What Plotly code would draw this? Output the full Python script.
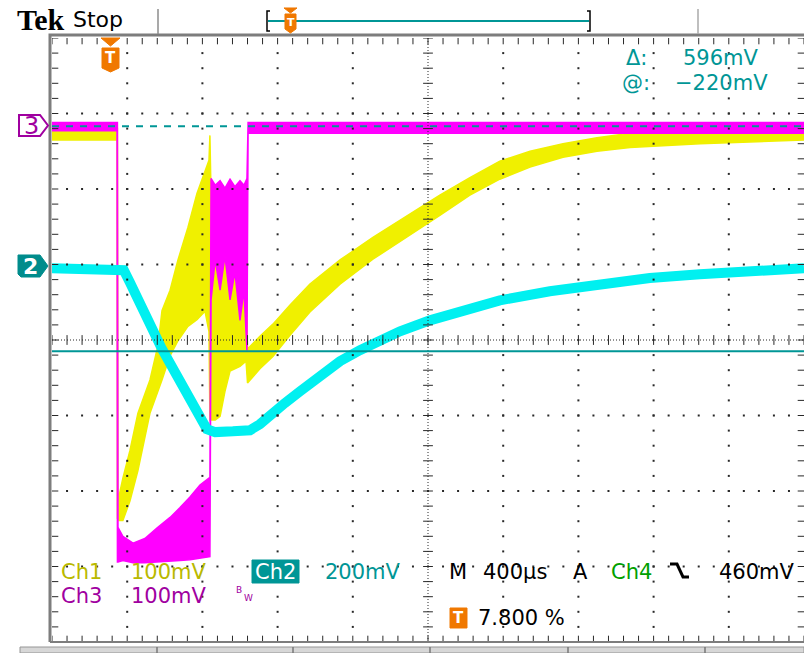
import plotly.graph_objects as go

# ---------------- data (read from the screen) ----------------
# time axis: microseconds relative to the trigger, 400 us/div, trigger at 7.8 % of record
T_PER_DIV = 400
TRIG_PCT = 7.8

# Ch1 (yellow) 100 mV/div : upper / lower envelope of the noisy trace, mV
ch1_t = [-312, 34, 36, 39, 65, 103, 145, 209, 252, 273, 316, 358, 411, 459, 502, 523, 528, 534,
         556, 582, 608, 635, 688, 720, 728, 794, 863, 953, 1060, 1220, 1395, 1576, 1751, 1911, 2070,
         2231, 2406, 2587, 2763, 3135, 3688]
ch1_hi = [-3, -3, -3, -496, -466, -429, -380, -336, -290, -244, -217, -177, -134, -89, -61, -45, -12, -91,
          -150, -160, -160, -165, -170, -175, -295, -278, -262, -237, -209, -177, -147, -119, -91, -68, -46,
          -33, -23, -15, -9, -7, -4]
ch1_lo = [-18, -18, -519, -522, -522, -496, -456, -380, -350, -336, -304, -284, -265, -256, -245, -272, -389, -389,
          -389, -384, -351, -324, -318, -311, -340, -321, -305, -277, -246, -209, -176, -146, -118, -91, -70,
          -54, -41, -33, -28, -23, -18]

# Ch3 (magenta) 100 mV/div : upper / lower envelope, mV
ch3_t = [-312, 34, 36, 39, 65, 119, 182, 246, 316, 369, 422, 475, 528, 534, 556, 582, 608, 635,
         661, 688, 709, 725, 731, 3688]
ch3_hi = [5, 5, 5, -531, -543, -552, -546, -532, -518, -505, -491, -475, -465, -69, -78, -72, -82, -70,
          -80, -72, -78, -69, 5, 5]
ch3_lo = [-6, -6, -577, -577, -575, -578, -578, -577, -576, -575, -574, -572, -570, -230, -177, -217, -172, -230,
          -193, -257, -217, -297, -9, -9]

# Ch2 (cyan) 200 mV/div, mV
ch2_t = [-312, 40, 70, 100, 273, 512, 556, 650, 741, 794, 847, 927, 1007, 1113, 1220, 1326, 1432,
         1539, 1698, 1858, 2070, 2336, 2602, 2868, 3134, 3400, 3688]
ch2_mv = [0, 0, -5, -35, -214, -426, -434, -432, -429, -413, -389, -357, -326, -284, -246, -217, -191,
          -167, -138, -114, -85, -61, -42, -26, -16, -8, 0]

# horizontal cursors on Ch2 (mV): "@" and "@ + delta"
cursor_at = -220
cursor_delta = 596

# channel settings: (mV/div, ground position in div)
CH1 = (100, 2.83)
CH2 = (200, 0.95)
CH3 = (100, 2.83)

# ---------------- figure ----------------
W, H = 804, 653
L, R, T, B = 52, 0, 38, 11
X0 = -T_PER_DIV * 10 * TRIG_PCT / 100
X1 = X0 + 10 * T_PER_DIV

YEL = '#f0f000'
MAG = '#ff00ff'
CYA = '#00f0f0'
TEAL = 'rgb(0,150,150)'
ORANGE = 'rgb(240,120,0)'
PURPLE = 'rgb(160,0,160)'
OLIVE = 'rgb(185,185,0)'
GRID = 'rgb(40,40,40)'


def px(x):
    return (x - L) / (W - L - R)


def py(y):
    return (H - B - y) / (H - T - B)


def to_div(vals, ch):
    sc, pos = ch
    return [pos + v / sc for v in vals]


fig = go.Figure()


def band(t, hi, lo, ch, color):
    xs = list(t) + list(t[::-1])
    ys = to_div(hi, ch) + to_div(lo[::-1], ch)
    fig.add_trace(go.Scatter(x=xs, y=ys, mode='lines', fill='toself', fillcolor=color,
                             line=dict(color=color, width=1.5), hoverinfo='skip'))


band(ch1_t, ch1_hi, ch1_lo, CH1, YEL)
band(ch3_t, ch3_hi, ch3_lo, CH3, MAG)
fig.add_trace(go.Scatter(x=ch2_t, y=to_div(ch2_mv, CH2), mode='lines',
                         line=dict(color=CYA, width=10), hoverinfo='skip'))

# ---------------- graticule ----------------
dx = T_PER_DIV / 5
gx, gy = [], []
for k in range(1, 10):
    if k == 5:
        continue
    for j in range(1, 40):
        gx.append(X0 + k * T_PER_DIV)
        gy.append(-4 + 0.2 * j)
for k in range(-3, 4):
    if k == 0:
        continue
    for j in range(1, 50):
        gx.append(X0 + j * dx)
        gy.append(k)
fig.add_trace(go.Scatter(x=gx, y=gy, mode='markers', hoverinfo='skip',
                         marker=dict(symbol='square', size=2, color=GRID, line=dict(width=0))))

xc = X0 + 5 * T_PER_DIV
# center-line ticks
fig.add_trace(go.Scatter(x=[xc] * 41, y=[-4 + 0.2 * j for j in range(41)], mode='markers', hoverinfo='skip',
                         marker=dict(symbol='line-ew', size=7, line=dict(width=1, color=GRID))))
fig.add_trace(go.Scatter(x=[X0 + j * dx for j in range(51)], y=[0] * 51, mode='markers', hoverinfo='skip',
                         marker=dict(symbol='line-ns', size=7, line=dict(width=1, color=GRID))))
# border ticks
bx = [X0 + j * dx for j in range(51)]
fig.add_trace(go.Scatter(x=bx + bx, y=[4] * 51 + [-4] * 51, mode='markers', hoverinfo='skip',
                         marker=dict(symbol='line-ns', size=9, line=dict(width=1, color=GRID))))
byy = [-4 + 0.2 * j for j in range(41)]
fig.add_trace(go.Scatter(x=[X0] * 41 + [X1] * 41, y=byy + byy, mode='markers', hoverinfo='skip',
                         marker=dict(symbol='line-ew', size=9, line=dict(width=1, color=GRID))))

shapes = []
# center dotted lines
shapes.append(dict(type='line', xref='x', yref='y', x0=xc, x1=xc, y0=-4, y1=4, layer='above',
                   line=dict(color=GRID, width=1, dash='1px,2px')))
shapes.append(dict(type='line', xref='x', yref='y', x0=X0, x1=X1, y0=0, y1=0, layer='above',
                   line=dict(color=GRID, width=1, dash='1px,2px')))
# cursors
c_lo = to_div([cursor_at], CH2)[0]
c_hi = to_div([cursor_at + cursor_delta], CH2)[0]
shapes.append(dict(type='line', xref='x', yref='y', x0=X0, x1=X1, y0=c_lo, y1=c_lo, layer='above',
                   line=dict(color=TEAL, width=2)))
shapes.append(dict(type='line', xref='x', yref='y', x0=X0, x1=X1,
                   y0=c_hi, y1=c_hi, layer='above', line=dict(color=TEAL, width=2, dash='7px,7px')))


def pline(points, color, width=1.5, close=False, fill=None):
    p = 'M ' + ' L '.join(f'{px(x):.5f},{py(y):.5f}' for x, y in points)
    if close:
        p += ' Z'
    d = dict(type='path', xref='paper', yref='paper', path=p, layer='above',
             line=dict(color=color, width=width))
    if fill:
        d['fillcolor'] = fill
    shapes.append(d)


# frame
pline([(50, 642), (50, 35), (804, 35)], 'rgb(125,125,125)', 3)
pline([(50, 642), (804, 642)], 'rgb(125,125,125)', 2)
# header separators
pline([(158, 9), (158, 34)], 'rgb(140,140,140)', 1.5)
pline([(698, 9), (698, 34)], 'rgb(170,170,170)', 1.5)
# record view
pline([(268, 21), (589, 21)], TEAL, 2)
pline([(270, 11), (267, 11), (267, 31), (270, 31)], 'black', 1.5)
pline([(587, 11), (590, 11), (590, 31), (587, 31)], 'black', 1.5)
pline([(284, 8), (297, 8), (290.5, 13)], ORANGE, 1, True, ORANGE)
pline([(285, 14), (296, 14), (296, 29), (290.5, 33), (285, 29)], ORANGE, 1, True, ORANGE)
# trigger marker on screen
pline([(101, 38), (120, 38), (110.5, 46)], ORANGE, 1, True, ORANGE)
pline([(102, 48), (119, 48), (119, 68), (110.5, 72), (102, 68)], ORANGE, 1, True, ORANGE)
# channel markers
pline([(19, 115), (40, 115), (48, 125.5), (40, 136), (19, 136)], PURPLE, 2, True, 'white')
pline([(18, 255), (40, 255), (48, 266), (40, 277), (21, 277), (18, 274)], 'rgb(0,140,140)', 1, True, 'rgb(0,140,140)')
# Ch2 label box, trigger box
pline([(252, 560), (299, 560), (299, 583), (252, 583)], TEAL, 1, True, TEAL)
pline([(450, 608), (467, 608), (467, 628), (450, 628)], ORANGE, 1, True, ORANGE)
# falling slope symbol
pline([(670, 564), (677, 564), (683, 577), (689, 577)], 'black', 3)
# bottom tabs
pline([(20, 647), (804, 647), (804, 653), (20, 653)], 'rgb(150,150,150)', 1, True, 'rgb(215,215,215)')
for xs in (157, 293, 430, 568, 705):
    pline([(xs, 647), (xs, 653)], 'rgb(120,120,120)', 1.5)

fig.update_layout(shapes=shapes)

FONT = 'DejaVu Sans'


def txt(s, x, y, size=20, color='black', family=FONT):
    fig.add_annotation(text=s, x=px(x), y=py(y), xref='paper', yref='paper', showarrow=False,
                       xanchor='center', yanchor='middle', font=dict(size=size, color=color, family=family))


txt('<b>Tek</b>', 41, 19, 30, 'black', 'Liberation Serif')
txt('Stop', 98, 20, 22)
txt('<b>T</b>', 110.5, 58, 15, 'white')
txt('<b>T</b>', 290.5, 22, 11, 'white')
txt('3', 31, 126, 24, PURPLE)
txt('<b>2</b>', 30, 266, 22, 'white')
txt('Δ:', 636, 58, 21, TEAL)
txt('596mV', 721, 58, 21, TEAL)
txt('@:', 636, 83, 21, TEAL)
txt('−220mV', 721, 83, 21, TEAL)
txt('Ch1', 81, 572, 21, OLIVE)
txt('100mV', 169, 572, 21, OLIVE)
txt('Ch2', 275, 572, 21, 'white')
txt('200mV', 363, 572, 21, TEAL)
txt('M', 458, 572, 21)
txt('400µs', 515, 572, 21)
txt('A', 580, 572, 21)
txt('Ch4', 631, 572, 21, 'rgb(0,160,0)')
txt('460mV', 757, 572, 21)
txt('Ch3', 81, 596, 21, PURPLE)
txt('100mV', 169, 596, 21, PURPLE)
txt('B', 239, 590, 9, PURPLE)
txt('W', 248, 598, 9, PURPLE)
txt('<b>T</b>', 458.5, 618, 15, 'white')
txt('7.800 %', 521, 618, 21)

fig.update_layout(
    width=W, height=H,
    margin=dict(l=L, r=R, t=T, b=B, pad=0),
    paper_bgcolor='white', plot_bgcolor='white',
    showlegend=False,
    xaxis=dict(range=[X0, X1], visible=False, fixedrange=True),
    yaxis=dict(range=[-4, 4], visible=False, fixedrange=True),
)

fig.write_html('out.html', config={'displayModeBar': False},
               post_script="document.body.style.margin='0';document.body.style.overflow='hidden';")
